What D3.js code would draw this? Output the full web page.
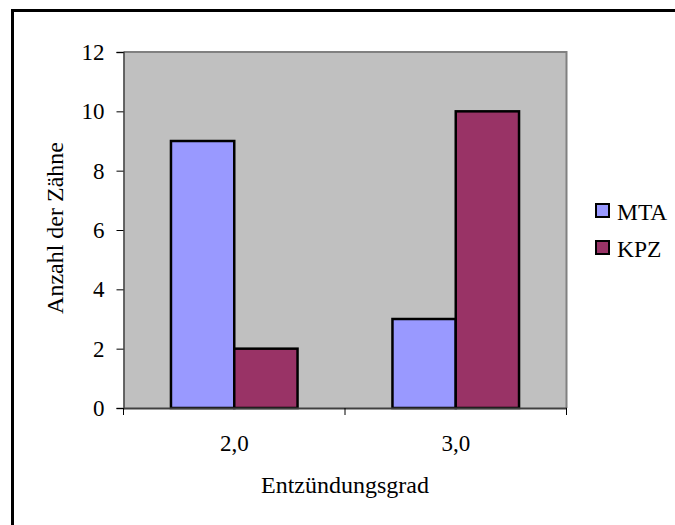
<!DOCTYPE html>
<html>
<head>
<meta charset="utf-8">
<script src="https://cdn.jsdelivr.net/npm/d3@7/dist/d3.min.js"></script>
<style>
  html, body { margin: 0; padding: 0; background: #fff; }
  svg { display: block; }
  text { font-family: "Liberation Serif", "Times New Roman", serif; fill: #000; }
</style>
</head>
<body>
<svg id="chart" width="675" height="525"></svg>
<script>
// Anzahl der Zähne je Entzündungsgrad, getrennt nach Material
const categories = ["2,0", "3,0"];
const seriesNames = ["MTA", "KPZ"];
const mtaValues = [9, 3];
const kpzValues = [2, 10];
const yTicks = [0, 2, 4, 6, 8, 10, 12];
const seriesColors = ["#9999FF", "#993366"];

const seriesValues = [mtaValues, kpzValues];
const table = categories.map((c, i) => ({
  category: c,
  values: seriesNames.map((s, k) => ({ series: s, value: seriesValues[k][i], color: seriesColors[k] }))
}));

const svg = d3.select("#chart");
const tickFont = 23;
const titleFont = 24;
const legendFont = 23.5;

// outer frame (only top and left edges fall inside the canvas)
svg.append("rect")
  .attr("x", 12.5).attr("y", 10.5)
  .attr("width", 700).attr("height", 560)
  .attr("fill", "#fff").attr("stroke", "#000").attr("stroke-width", 3);

const plot = { left: 123.5, right: 566.5, top: 52, bottom: 408 };

const x0 = d3.scaleBand()
  .domain(categories)
  .range([plot.left, plot.right])
  .paddingInner(0).paddingOuter(0);

// bars: group width = 2 bars + 150% gap
const barW = x0.bandwidth() / (seriesNames.length + 1.5);
const x1 = d3.scaleBand()
  .domain(seriesNames)
  .range([0, barW * seriesNames.length]);

const y = d3.scaleLinear().domain([0, 12]).range([plot.bottom, plot.top]);

// plot area background
svg.append("rect")
  .attr("x", plot.left).attr("y", plot.top)
  .attr("width", plot.right - plot.left).attr("height", plot.bottom - plot.top)
  .attr("fill", "#C0C0C0");

// grey plot border on top and right
svg.append("path")
  .attr("d", `M${plot.left},${plot.top}H${plot.right}V${plot.bottom}`)
  .attr("fill", "none").attr("stroke", "#808080").attr("stroke-width", 2);

// bars
const groups = svg.append("g").selectAll("g")
  .data(table).join("g")
  .attr("transform", d => `translate(${x0(d.category) + (x0.bandwidth() - barW * seriesNames.length) / 2},0)`);

groups.selectAll("rect")
  .data(d => d.values).join("rect")
  .attr("x", d => x1(d.series))
  .attr("y", d => y(d.value))
  .attr("width", x1.bandwidth())
  .attr("height", d => y(0) - y(d.value))
  .attr("fill", d => d.color)
  .attr("stroke", "#000").attr("stroke-width", 2.5);

// y axis
const yAxis = d3.axisLeft(y).tickValues(yTicks).tickFormat(d3.format("d")).tickSize(7).tickPadding(12);
const gy = svg.append("g").attr("transform", `translate(${plot.left},0)`).call(yAxis);
gy.attr("font-family", null).attr("font-size", null);
gy.select(".domain").attr("stroke", "#404040").attr("stroke-width", 1.5);
gy.selectAll(".tick line").attr("stroke", "#000");
gy.selectAll("text").style("font-size", tickFont + "px");

// x axis: ticks on category boundaries, labels centred in each band
const xAxis = d3.axisBottom(x0).tickSize(0).tickPadding(27);
const gx = svg.append("g").attr("transform", `translate(0,${plot.bottom})`).call(xAxis);
gx.attr("font-family", null).attr("font-size", null);
gx.select(".domain").attr("stroke", "#404040").attr("stroke-width", 2);
gx.selectAll("text").style("font-size", tickFont + "px");

const boundaries = categories.map(c => x0(c)).concat([x0(categories[categories.length - 1]) + x0.bandwidth()]);
svg.append("g").selectAll("line")
  .data(boundaries).join("line")
  .attr("x1", d => d).attr("x2", d => d)
  .attr("y1", plot.bottom).attr("y2", plot.bottom + 7)
  .attr("stroke", "#000").attr("stroke-width", 1);

// axis titles
svg.append("text")
  .attr("x", (plot.left + plot.right) / 2)
  .attr("y", 493)
  .attr("text-anchor", "middle")
  .style("font-size", titleFont + "px")
  .text("Entzündungsgrad");

svg.append("text")
  .attr("transform", `translate(63,228) rotate(-90)`)
  .attr("text-anchor", "middle")
  .style("font-size", titleFont + "px")
  .text("Anzahl der Zähne");

// legend
const legend = svg.append("g").attr("transform", "translate(596,204)");
const li = legend.selectAll("g").data(seriesNames).join("g")
  .attr("transform", (d, i) => `translate(0,${i * 37})`);
li.append("rect")
  .attr("x", 0).attr("y", 0).attr("width", 13).attr("height", 13)
  .attr("fill", (d, i) => seriesColors[i])
  .attr("stroke", "#000").attr("stroke-width", 2);
li.append("text")
  .attr("x", 21).attr("y", 15.5)
  .style("font-size", legendFont + "px")
  .text(d => d);
</script>
</body>
</html>
